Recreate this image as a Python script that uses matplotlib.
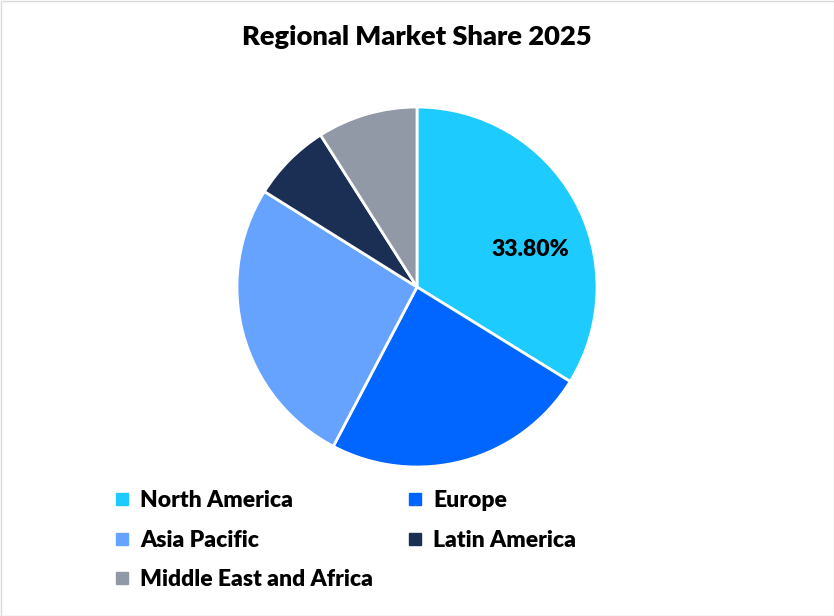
import matplotlib
matplotlib.use('Agg')
import matplotlib.pyplot as plt
from matplotlib.patches import Rectangle
from matplotlib.lines import Line2D

regions = ['North America', 'Europe', 'Asia Pacific', 'Latin America', 'Middle East and Africa']
shares = [33.8, 23.9, 26.2, 7.1, 9.0]
colors = ['#1ECBFF', '#0066FF', '#66A3FF', '#1B2F55', '#9199A6']

plt.rcParams['font.family'] = ['Lato', 'DejaVu Sans']
W, H = 834, 616
fig = plt.figure(figsize=(W/100, H/100), dpi=100)
fig.patches.append(Rectangle((0.5/W, 0.5/H), 1-1/W, 1-1/H, transform=fig.transFigure,
                             fill=False, edgecolor='#D9D9D9', linewidth=1))

# pie: centre (417,287), radius 180 px
ax = fig.add_axes([237/W, (H-467)/H, 360/W, 360/H])
ax.pie(shares, colors=colors, startangle=90, counterclock=False, radius=1,
       wedgeprops=dict(edgecolor='white', linewidth=2))
ax.set_xlim(-1, 1); ax.set_ylim(-1, 1); ax.set_aspect('equal')
ax.axis('off')
ax.text(0.63, 0.21, f'{shares[0]:.2f}%', ha='center', va='center',
        fontsize=16.5, fontweight='heavy', color='black')

fig.text(417/W, 1-37/H, 'Regional Market Share 2025', ha='center', va='center',
         fontsize=19.6, fontweight='heavy')

handles = [Line2D([], [], marker='s', linestyle='none', markersize=9,
                  markerfacecolor=c, markeredgecolor=c) for c in colors]
order = [0, 2, 4, 1, 3]
leg = fig.legend([handles[i] for i in order], [regions[i] for i in order], ncol=2,
                 loc='upper left', bbox_to_anchor=(99/W, 1-479/H), frameon=False,
                 prop=dict(size=16.5, weight='heavy'), handletextpad=0.3, borderpad=0,
                 columnspacing=1.32, labelspacing=0.8, handlelength=1.0)

fig.savefig('out.png', dpi=100)
